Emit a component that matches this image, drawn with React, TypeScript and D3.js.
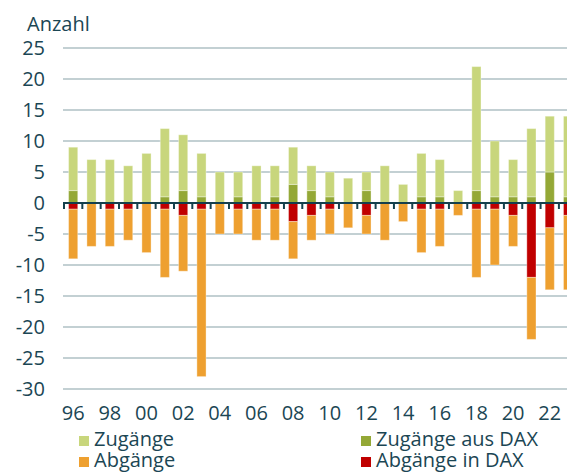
import { useEffect, useRef } from 'react';
import * as d3 from 'd3';

// Jahre 1996 bis 2023
const years = d3.range(1996, 2024).map(String);

// Zugänge ohne DAX-Absteiger
const zugaenge = [7, 7, 7, 6, 8, 11, 9, 7, 5, 4, 6, 5, 6, 4, 4, 4, 3, 6, 3, 7, 6, 2, 20, 9, 6, 11, 9, 13];
// Zugänge aus dem DAX
const zugaengeDax = [2, 0, 0, 0, 0, 1, 2, 1, 0, 1, 0, 1, 3, 2, 1, 0, 2, 0, 0, 1, 1, 0, 2, 1, 1, 1, 5, 1];
// Abgänge in den DAX (negativ)
const abgaengeDax = [-1, 0, -1, -1, 0, -1, -2, -1, 0, -1, -1, -1, -3, -2, -1, 0, -2, 0, 0, -1, -1, 0, -1, -1, -2, -12, -4, -2];
// sonstige Abgänge (negativ)
const abgaenge = [-8, -7, -6, -5, -8, -11, -9, -27, -5, -4, -5, -5, -6, -4, -4, -4, -3, -6, -3, -7, -6, -2, -11, -9, -5, -10, -10, -12];

const yTicks = [25, 20, 15, 10, 5, 0, -5, -10, -15, -20, -25, -30];

const keys = ['zugaengeDax', 'zugaenge', 'abgaengeDax', 'abgaenge'];
const colors: Record<string, string> = {
  zugaenge: '#c8d67c',
  zugaengeDax: '#94a836',
  abgaenge: '#eea030',
  abgaengeDax: '#c00000',
};

const legendItems = [
  { key: 'zugaenge', label: 'Zugänge', col: 0, row: 0 },
  { key: 'abgaenge', label: 'Abgänge', col: 0, row: 1 },
  { key: 'zugaengeDax', label: 'Zugänge aus DAX', col: 1, row: 0 },
  { key: 'abgaengeDax', label: 'Abgänge in DAX', col: 1, row: 1 },
];

const textColor = '#1b4654';
const font = '"Open Sans", sans-serif';

export default function App() {
  const svgRef = useRef<SVGSVGElement>(null);

  useEffect(() => {
    if (!svgRef.current) return;
    const svg = d3.select(svgRef.current);
    svg.selectAll('*').remove();

    const left = 64;
    const step = 18.33;

    const x = d3.scaleBand<string>()
      .domain(years)
      .range([left, left + step * years.length])
      .paddingInner(0.5)
      .paddingOuter(0.25);

    const y = d3.scaleLinear().domain([-30, 25]).range([389, 48]);

    const rows = years.map((yr, i) => ({
      year: yr,
      zugaenge: zugaenge[i],
      zugaengeDax: zugaengeDax[i],
      abgaenge: abgaenge[i],
      abgaengeDax: abgaengeDax[i],
    }));

    const series = d3.stack<any>()
      .keys(keys)
      .offset(d3.stackOffsetDiverging)(rows);

    // grid lines
    svg.append('g')
      .selectAll('line')
      .data(yTicks.filter(t => t !== 0))
      .enter()
      .append('line')
      .attr('x1', 63)
      .attr('x2', 567)
      .attr('y1', d => y(d))
      .attr('y2', d => y(d))
      .attr('stroke', '#afc0c4')
      .attr('stroke-width', 1.5);

    // y labels
    svg.append('g')
      .selectAll('text')
      .data(yTicks)
      .enter()
      .append('text')
      .attr('x', 45)
      .attr('y', d => y(d))
      .attr('dy', '0.35em')
      .attr('text-anchor', 'end')
      .attr('font-family', font)
      .attr('font-size', 20)
      .attr('fill', textColor)
      .text(d => String(d));

    svg.append('text')
      .attr('x', 27)
      .attr('y', 31)
      .attr('font-family', font)
      .attr('font-size', 20)
      .attr('fill', textColor)
      .text('Anzahl');

    // bars
    svg.append('g')
      .selectAll('g')
      .data(series)
      .enter()
      .append('g')
      .attr('fill', d => colors[d.key])
      .selectAll('rect')
      .data(d => d)
      .enter()
      .append('rect')
      .attr('x', d => x(d.data.year) as number)
      .attr('width', x.bandwidth())
      .attr('y', d => y(Math.max(d[0], d[1])))
      .attr('height', d => Math.abs(y(d[0]) - y(d[1])))
      .attr('stroke', 'rgba(255,255,255,0.35)')
      .attr('stroke-width', 1);

    // zero line with ticks
    const zero = y(0);
    svg.append('line')
      .attr('x1', 63)
      .attr('x2', 567)
      .attr('y1', zero)
      .attr('y2', zero)
      .attr('stroke', '#15404d')
      .attr('stroke-width', 2);

    const bounds = d3.range(years.length + 1).map(i => left + i * step);
    svg.append('g')
      .selectAll('line')
      .data(bounds)
      .enter()
      .append('line')
      .attr('x1', d => d)
      .attr('x2', d => d)
      .attr('y1', zero)
      .attr('y2', zero + 6)
      .attr('stroke', '#15404d')
      .attr('stroke-width', 2);

    // x labels
    svg.append('g')
      .selectAll('text')
      .data(years.filter((_, i) => i % 2 === 0))
      .enter()
      .append('text')
      .attr('x', d => (x(d) as number) + x.bandwidth() / 2)
      .attr('y', 420)
      .attr('text-anchor', 'middle')
      .attr('font-family', font)
      .attr('font-size', 20)
      .attr('fill', textColor)
      .text(d => d.slice(2));

    // legend
    const legend = svg.append('g')
      .selectAll('g')
      .data(legendItems)
      .enter()
      .append('g')
      .attr('transform', d => `translate(${d.col === 0 ? 79 : 361}, ${436 + d.row * 21})`);

    legend.append('rect')
      .attr('width', 10)
      .attr('height', 10)
      .attr('fill', d => colors[d.key]);

    legend.append('text')
      .attr('x', 15)
      .attr('y', 10)
      .attr('font-family', font)
      .attr('font-size', 20)
      .attr('fill', textColor)
      .text(d => d.label);
  }, []);

  return (
    <div style={{ position: 'fixed', left: 0, top: 0, width: 567, height: 473, overflow: 'hidden', background: '#fff' }}>
      <svg ref={svgRef} width={567} height={473} />
    </div>
  );
}
